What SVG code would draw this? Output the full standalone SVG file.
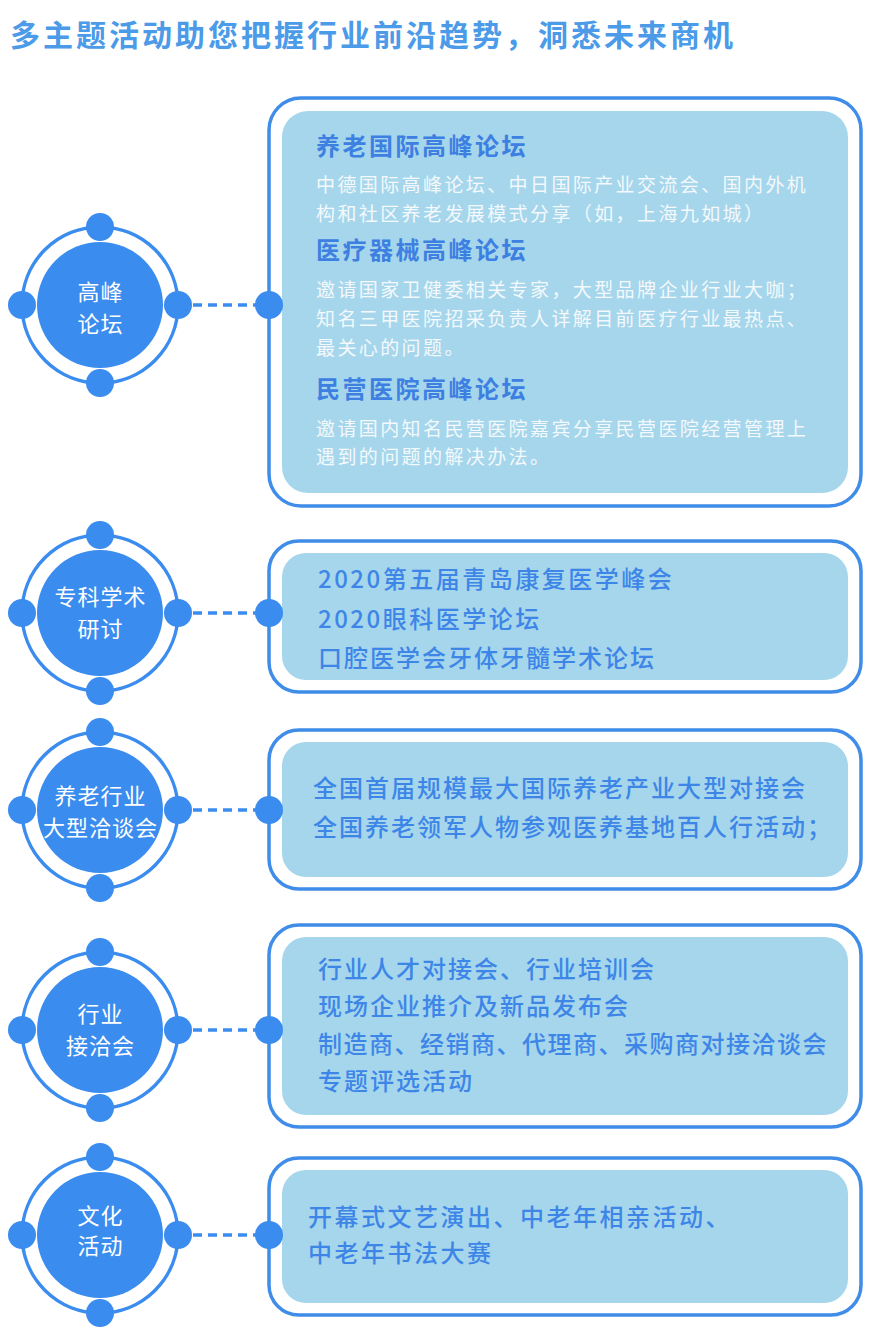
<svg xmlns="http://www.w3.org/2000/svg" width="881" height="1328" viewBox="0 0 881 1328">
<style>
.ring{fill:none;stroke:#3b8cef;stroke-width:3.5}
.core{fill:#3b8cef}
.dot{fill:#3b8cef}
.lbl{font-family:"Noto Sans CJK SC","Noto Sans",sans-serif;font-size:22px;fill:#ffffff;text-anchor:middle;letter-spacing:1px}
.outer{fill:#ffffff;stroke:#3f8de9;stroke-width:3.5}
.inner{fill:#a6d6eb}
.t{font-family:"Noto Sans CJK SC","Noto Sans",sans-serif;font-size:24px;fill:#3d86e8;font-weight:500;letter-spacing:2px}
.h{font-family:"Noto Sans CJK SC","Noto Sans",sans-serif;font-size:24px;fill:#3d80e2;font-weight:700;letter-spacing:2.5px}
.d{font-family:"Noto Sans CJK SC","Noto Sans",sans-serif;font-size:19px;fill:#f3f9fc;letter-spacing:2.4px}
.title{font-family:"Noto Sans CJK SC","Noto Sans",sans-serif;font-size:30px;fill:#4b9be8;font-weight:700;letter-spacing:3px}
.dash{stroke:#3b8cef;stroke-width:3.5;stroke-dasharray:9 6;fill:none}
</style>
<rect width="881" height="1328" fill="#ffffff"/>
<text class="title" x="10" y="46">多主题活动助您把握行业前沿趋势，洞悉未来商机</text>

<g id="connectors">
<line class="dash" x1="193" y1="305" x2="256" y2="305"/>
<line class="dash" x1="193" y1="613" x2="256" y2="613"/>
<line class="dash" x1="193" y1="810" x2="256" y2="810"/>
<line class="dash" x1="193" y1="1030" x2="256" y2="1030"/>
<line class="dash" x1="193" y1="1235" x2="256" y2="1235"/>
</g>

<g id="box1">
<rect class="outer" x="269" y="98" width="592" height="408" rx="32"/>
<rect class="inner" x="282" y="111" width="566" height="382" rx="26"/>
<circle class="dot" cx="269" cy="305" r="14"/>
<text class="h" x="316" y="155">养老国际高峰论坛</text>
<text class="d" x="316" y="192">中德国际高峰论坛、中日国际产业交流会、国内外机</text>
<text class="d" x="316" y="221">构和社区养老发展模式分享（如，上海九如城）</text>
<text class="h" x="316" y="259">医疗器械高峰论坛</text>
<text class="d" x="316" y="297">邀请国家卫健委相关专家，大型品牌企业行业大咖；</text>
<text class="d" x="316" y="326">知名三甲医院招采负责人详解目前医疗行业最热点、</text>
<text class="d" x="316" y="355">最关心的问题。</text>
<text class="h" x="316" y="398">民营医院高峰论坛</text>
<text class="d" x="316" y="436">邀请国内知名民营医院嘉宾分享民营医院经营管理上</text>
<text class="d" x="316" y="464">遇到的问题的解决办法。</text>
</g>

<g id="box2">
<rect class="outer" x="269" y="541" width="592" height="151" rx="30"/>
<rect class="inner" x="282" y="553" width="566" height="127" rx="24"/>
<circle class="dot" cx="269" cy="613" r="14"/>
<text class="t" x="318" y="588" style="letter-spacing:2.5px">2020第五届青岛康复医学峰会</text>
<text class="t" x="318" y="628" style="letter-spacing:2.5px">2020眼科医学论坛</text>
<text class="t" x="318" y="667">口腔医学会牙体牙髓学术论坛</text>
</g>

<g id="box3">
<rect class="outer" x="269" y="730" width="592" height="159" rx="30"/>
<rect class="inner" x="282" y="742" width="566" height="135" rx="24"/>
<circle class="dot" cx="269" cy="810" r="14"/>
<text class="t" x="313" y="797">全国首届规模最大国际养老产业大型对接会</text>
<text class="t" x="313" y="836">全国养老领军人物参观医养基地百人行活动；</text>
</g>

<g id="box4">
<rect class="outer" x="269" y="925" width="592" height="202" rx="30"/>
<rect class="inner" x="282" y="937" width="566" height="178" rx="24"/>
<circle class="dot" cx="269" cy="1030" r="14"/>
<text class="t" x="318" y="978">行业人才对接会、行业培训会</text>
<text class="t" x="318" y="1015">现场企业推介及新品发布会</text>
<text class="t" x="318" y="1053" style="letter-spacing:1.5px">制造商、经销商、代理商、采购商对接洽谈会</text>
<text class="t" x="318" y="1090">专题评选活动</text>
</g>

<g id="box5">
<rect class="outer" x="269" y="1158" width="592" height="157" rx="30"/>
<rect class="inner" x="282" y="1170" width="566" height="133" rx="24"/>
<circle class="dot" cx="269" cy="1235" r="14"/>
<text class="t" x="308" y="1226" style="letter-spacing:2.5px">开幕式文艺演出、中老年相亲活动、</text>
<text class="t" x="308" y="1262" style="letter-spacing:2.5px">中老年书法大赛</text>
</g>

<g id="node1">
<circle class="ring" cx="100" cy="305" r="78"/>
<circle class="core" cx="100" cy="305" r="63"/>
<circle class="dot" cx="100" cy="227" r="14"/>
<circle class="dot" cx="100" cy="383" r="14"/>
<circle class="dot" cx="22" cy="305" r="14"/>
<circle class="dot" cx="178" cy="305" r="14"/>
<text class="lbl" x="100.5" y="300">高峰</text>
<text class="lbl" x="100.5" y="332">论坛</text>
</g>

<g id="node2">
<circle class="ring" cx="100" cy="613" r="78"/>
<circle class="core" cx="100" cy="613" r="63"/>
<circle class="dot" cx="100" cy="535" r="14"/>
<circle class="dot" cx="100" cy="691" r="14"/>
<circle class="dot" cx="22" cy="613" r="14"/>
<circle class="dot" cx="178" cy="613" r="14"/>
<text class="lbl" x="100.5" y="605">专科学术</text>
<text class="lbl" x="100.5" y="637">研讨</text>
</g>

<g id="node3">
<circle class="ring" cx="100" cy="810" r="78"/>
<circle class="core" cx="100" cy="810" r="63"/>
<circle class="dot" cx="100" cy="732" r="14"/>
<circle class="dot" cx="100" cy="888" r="14"/>
<circle class="dot" cx="22" cy="810" r="14"/>
<circle class="dot" cx="178" cy="810" r="14"/>
<text class="lbl" x="100.5" y="804">养老行业</text>
<text class="lbl" x="100.5" y="836">大型洽谈会</text>
</g>

<g id="node4">
<circle class="ring" cx="100" cy="1030" r="78"/>
<circle class="core" cx="100" cy="1030" r="63"/>
<circle class="dot" cx="100" cy="952" r="14"/>
<circle class="dot" cx="100" cy="1108" r="14"/>
<circle class="dot" cx="22" cy="1030" r="14"/>
<circle class="dot" cx="178" cy="1030" r="14"/>
<text class="lbl" x="100.5" y="1022">行业</text>
<text class="lbl" x="100.5" y="1054">接洽会</text>
</g>

<g id="node5">
<circle class="ring" cx="100" cy="1235" r="78"/>
<circle class="core" cx="100" cy="1235" r="63"/>
<circle class="dot" cx="100" cy="1157" r="14"/>
<circle class="dot" cx="100" cy="1313" r="14"/>
<circle class="dot" cx="22" cy="1235" r="14"/>
<circle class="dot" cx="178" cy="1235" r="14"/>
<text class="lbl" x="100.5" y="1224">文化</text>
<text class="lbl" x="100.5" y="1254">活动</text>
</g>
</svg>
